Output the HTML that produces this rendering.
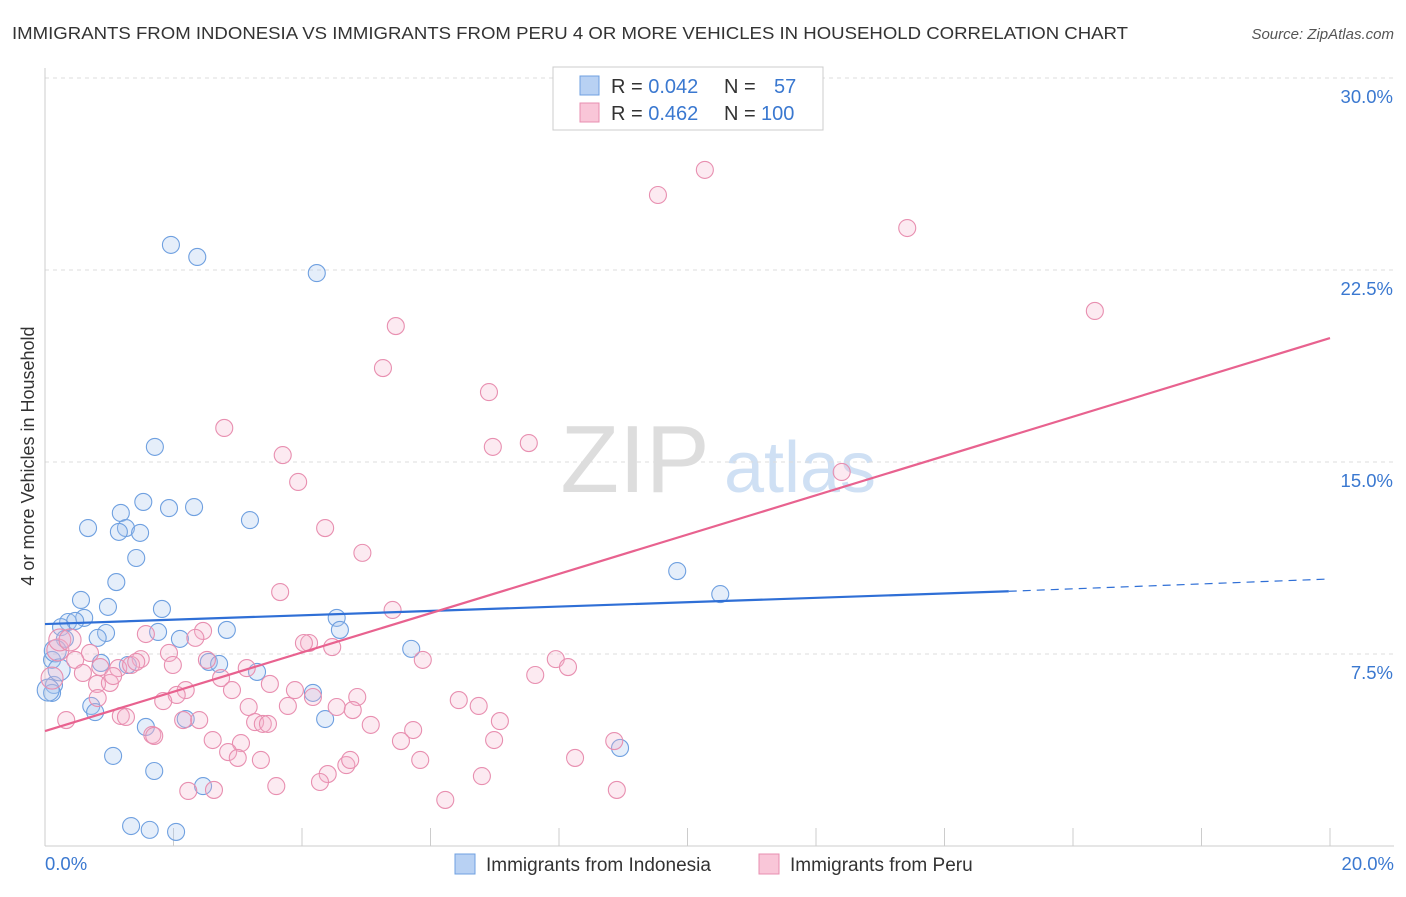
<!DOCTYPE html>
<html><head><meta charset="utf-8"><style>
body{margin:0;background:#fff;font-family:"Liberation Sans",sans-serif;}
svg text{font-family:"Liberation Sans",sans-serif;}
</style></head><body>
<svg id="chart" width="1406" height="892">
<text x="12" y="39" font-size="17.5" textLength="1116" lengthAdjust="spacingAndGlyphs" fill="#333">IMMIGRANTS FROM INDONESIA VS IMMIGRANTS FROM PERU 4 OR MORE VEHICLES IN HOUSEHOLD CORRELATION CHART</text>
<text x="1394" y="39" font-size="15" fill="#555" text-anchor="end" font-style="italic">Source: ZipAtlas.com</text>
<text x="635" y="492" font-size="96" fill="#ddd" font-family="Liberation Serif" text-anchor="middle">ZIP</text>
<text x="800" y="492" font-size="72" fill="#cfe0f4" text-anchor="middle">atlas</text>
<g id="grid"></g><g id="axes"></g><g id="pts"></g><g id="lines"></g>
<text transform="translate(34,456) rotate(-90)" font-size="18" fill="#333" text-anchor="middle">4 or more Vehicles in Household</text>
<g>
<rect x="553" y="67" width="270" height="63" fill="#fff" stroke="#ccc"/>
<rect x="580" y="76" width="19" height="19" fill="#b8d1f3" stroke="#6fa0e0"/>
<rect x="580" y="103" width="19" height="19" fill="#f9c6d8" stroke="#e88fb0"/>
<text x="611" y="93" font-size="20" fill="#333">R = <tspan fill="#3a78d0">0.042</tspan></text>
<text x="724" y="93" font-size="20" fill="#333">N = <tspan fill="#3a78d0" x="774">57</tspan></text>
<text x="611" y="120" font-size="20" fill="#333">R = <tspan fill="#3a78d0">0.462</tspan></text>
<text x="724" y="120" font-size="20" fill="#333">N = <tspan fill="#3a78d0" x="761">100</tspan></text>
</g>
<g>
<rect x="455" y="854" width="20" height="20" fill="#b8d1f3" stroke="#6fa0e0"/>
<text x="486" y="871" font-size="19" fill="#333">Immigrants from Indonesia</text>
<rect x="759" y="854" width="20" height="20" fill="#f9c6d8" stroke="#e88fb0"/>
<text x="790" y="871" font-size="19" fill="#333">Immigrants from Peru</text>
</g>
</svg>
<script>
const yTicks=[7.5,15,22.5,30];
const yTickLabels=["7.5%","15.0%","22.5%","30.0%"];
const xTickLabels=["0.0%","20.0%"];
const blueX=[1.96,2.37,4.23,1.71,1.53,1.93,2.32,1.18,0.67,1.26,1.15,1.48,3.19,1.42,1.11,0.56,0.98,1.82,0.61,0.36,0.47,0.25,0.95,1.76,2.83,2.10,0.82,0.31,4.54,4.59,5.70,9.84,10.51,0.11,0.87,1.29,2.55,2.71,3.30,0.14,0.11,4.17,0.72,0.78,1.57,2.19,4.36,1.06,1.70,2.46,1.34,1.63,2.04,8.95,0.16,0.22,0.05];
const blueY=[23.48,23.01,22.38,15.59,13.44,13.20,13.24,13.01,12.42,12.42,12.27,12.23,12.73,11.25,10.31,9.61,9.34,9.26,8.91,8.75,8.79,8.55,8.32,8.36,8.44,8.09,8.13,8.09,8.91,8.44,7.70,10.74,9.84,7.27,7.15,7.07,7.19,7.11,6.80,6.29,5.98,5.98,5.47,5.23,4.65,4.96,4.96,3.52,2.93,2.34,0.78,0.63,0.55,3.83,7.62,6.88,6.09];
const pinkX=[10.27,9.54,13.42,16.34,5.46,5.26,6.91,2.79,7.53,6.97,3.70,12.40,3.94,4.36,4.94,3.66,5.41,1.57,2.46,2.34,4.11,4.03,4.47,5.88,7.95,8.14,1.49,1.93,0.70,0.47,0.59,0.86,1.14,1.34,1.42,1.99,2.52,3.14,2.74,0.81,1.01,1.06,3.50,2.19,2.05,2.91,3.89,0.82,7.63,4.86,6.44,4.17,1.84,3.17,3.78,4.54,4.79,6.75,0.33,1.18,1.26,2.15,2.40,3.27,3.39,3.47,5.07,7.08,5.73,1.67,1.70,2.61,3.05,5.54,6.99,8.86,2.85,3.00,3.36,4.69,4.75,5.84,8.25,4.40,6.80,4.28,3.60,2.23,2.63,6.23,8.90,0.11,0.20,0.23,0.39];
const pinkY=[26.41,25.43,24.14,20.90,20.31,18.67,17.73,16.33,15.74,15.59,15.27,14.61,14.22,12.42,11.45,9.92,9.22,8.28,8.40,8.13,7.93,7.93,7.77,7.27,7.30,6.99,7.30,7.54,7.54,7.27,6.76,6.99,6.95,7.07,7.19,7.07,7.27,6.95,6.56,6.33,6.37,6.64,6.33,6.09,5.90,6.09,6.09,5.78,6.68,5.82,5.70,5.82,5.66,5.43,5.47,5.43,5.31,5.47,4.92,5.08,5.04,4.92,4.92,4.84,4.77,4.77,4.73,4.88,4.53,4.34,4.30,4.14,4.02,4.10,4.14,4.10,3.67,3.44,3.36,3.16,3.36,3.36,3.44,2.81,2.73,2.50,2.34,2.15,2.19,1.80,2.19,6.56,7.66,8.05,8.05];
const blueLine=[8.67,9.95,10.43]; // at x=0, x=15, x=20
const pinkLine=[4.49,19.84]; // at x=0, x=20
const NS="http://www.w3.org/2000/svg";
const sx=v=>45+v*64.25, sy=v=>846-v*25.6;
function mk(tag,attrs,parent){const e=document.createElementNS(NS,tag);for(const k in attrs)e.setAttribute(k,attrs[k]);document.getElementById(parent).appendChild(e);return e;}
yTicks.forEach((t,i)=>{
 const g=mk('line',{x1:45,x2:1394,y1:sy(t),y2:sy(t),stroke:'#ddd','stroke-dasharray':'4,4'},'grid');
 
 
 const tx=mk('text',{x:1393,y:sy(t)+25,'font-size':18.5,fill:'#3a78d0','text-anchor':'end'},'grid');
 tx.textContent=yTickLabels[i];
 
 
});
const ax=mk('line',{x1:45,x2:1394,y1:846,y2:846,stroke:'#ccc'},'axes');


const ay=mk('line',{x1:45,x2:45,y1:68,y2:846,stroke:'#ccc'},'axes');


for(let v=0;v<=20;v+=2){
 const t=mk('line',{x1:sx(v),x2:sx(v),y1:828,y2:846,stroke:'#ccc'},'axes');
 
 
}
[[0,'start',45],[20,'end',1394]].forEach((d,i)=>{
 const t=mk('text',{x:d[2],y:870,'font-size':18.5,fill:'#3a78d0','text-anchor':d[1]},'axes');
 t.textContent=xTickLabels[i];
 
 
});
blueX.forEach((x,i)=>{
 const r=i>=54?11:8.5;
 const c=mk('circle',{cx:sx(x),cy:sy(blueY[i]),r:r,fill:'rgba(168,198,240,0.3)',stroke:'#6fa0e0','stroke-width':1.1},'pts');
 
 
});
pinkX.forEach((x,i)=>{
 const r=i>=91?11:8.5;
 const c=mk('circle',{cx:sx(x),cy:sy(pinkY[i]),r:r,fill:'rgba(245,180,205,0.28)',stroke:'#e88fb0','stroke-width':1.1},'pts');
 
 
});
const bl=mk('line',{x1:sx(0),y1:sy(blueLine[0]),x2:sx(15),y2:sy(blueLine[1]),stroke:'#2f6fd6','stroke-width':2.2},'lines');


const bd=mk('line',{x1:sx(15),y1:sy(blueLine[1]),x2:sx(20),y2:sy(blueLine[2]),stroke:'#2f6fd6','stroke-width':1.2,'stroke-dasharray':'8,6'},'lines');


const pl=mk('line',{x1:sx(0),y1:sy(pinkLine[0]),x2:sx(20),y2:sy(pinkLine[1]),stroke:'#e8628f','stroke-width':2.2},'lines');


</script>
</body></html>
